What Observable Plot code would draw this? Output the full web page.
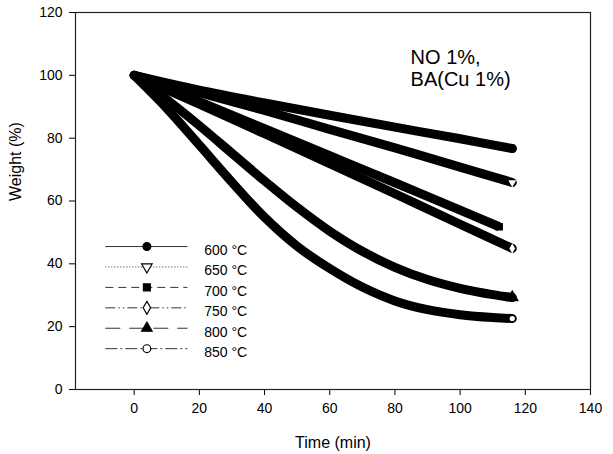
<!DOCTYPE html>
<html>
<head>
<meta charset="utf-8">
<script src="https://cdn.jsdelivr.net/npm/d3@7"></script>
<script src="https://cdn.jsdelivr.net/npm/@observablehq/plot@0.6"></script>
<style>
  body { margin: 0; background: #fff; }
  #chart svg { display: block; }
</style>
</head>
<body>
<div id="chart"></div>
<script>
// ---- data ----
const seriesNames = ["600 °C", "650 °C", "700 °C", "750 °C", "800 °C", "850 °C"];

const time600 = [0, 20, 40, 60, 80, 100, 116];
const weight600 = [100, 95.3, 91.2, 87.3, 83.5, 79.8, 76.7];

const time650 = [0, 20, 40, 60, 80, 100, 116];
const weight650 = [100, 94.5, 88.8, 82.8, 76.9, 70.8, 65.9];

const time700 = [0, 20, 40, 60, 80, 100, 112];
const weight700 = [100, 91.6, 83, 74.4, 65.8, 57.1, 51.8];

const time750 = [0, 20, 40, 60, 80, 100, 116];
const weight750 = [100, 90.8, 81.4, 71.9, 62.3, 52.6, 44.9];

const time800 = [0, 10, 20, 30, 40, 50, 60, 70, 80, 90, 100, 110, 116];
const weight800 = [100, 92.3, 84, 75.2, 66.4, 58, 50.4, 44, 38.9, 35, 32.2, 30.2, 29.3];

const time850 = [0, 10, 20, 30, 40, 50, 60, 70, 80, 90, 100, 110, 116];
const weight850 = [100, 89.5, 77.8, 66, 54.8, 45.6, 38.5, 32.6, 28.2, 25.4, 23.8, 22.9, 22.6];

const xTicks = [0, 20, 40, 60, 80, 100, 120, 140];
const yTicks = [0, 20, 40, 60, 80, 100, 120];
const annotationText = "NO 1%,\nBA(Cu 1%)";
const xLabel = "Time (min)";
const yLabel = "Weight (%)";

// ---- build tables ----
const times = [time600, time650, time700, time750, time800, time850];
const weights = [weight600, weight650, weight700, weight750, weight800, weight850];
const tables = seriesNames.map((name, i) =>
  times[i].map((t, j) => ({series: name, time: t, weight: weights[i][j]}))
);

// ---- styles ----
const triangleDown = {
  draw(context, size) {
    const y = -Math.sqrt(size / (Math.sqrt(3) * 3));
    context.moveTo(0, -y * 2);
    context.lineTo(-Math.sqrt(3) * y, y);
    context.lineTo(Math.sqrt(3) * y, y);
    context.closePath();
  }
};
const styles = [
  {symbol: "circle", fill: "black", dash: null, cap: "round", endR: 4.5, endFill: "black"},
  {symbol: triangleDown, fill: "white", dash: "1,2", cap: "round", endR: 3, endFill: "white"},
  {symbol: "square", fill: "black", dash: "8,5", cap: "butt", endR: 4.2, endFill: "black"},
  {symbol: "diamond", fill: "white", dash: "10,3,1.5,3,1.5,3", cap: "round", endR: 3, endFill: "white"},
  {symbol: "triangle", fill: "black", dash: "15,9", cap: "round", endR: 5, endFill: "black"},
  {symbol: "circle", fill: "white", dash: "12,3,2,3", cap: "round", endR: 2.6, endFill: "white"}
];

// legend layout (in data units)
const legendX1 = -8.7, legendX2 = 16.5, legendMarkX = 3.9, legendTextX = 21.5;
const legendTopY = 45.5, legendStep = 6.5;

const marks = [Plot.frame({stroke: "#222", strokeWidth: 1.2})];

tables.forEach((tbl, i) => {
  const s = styles[i];
  marks.push(Plot.line(tbl, {
    x: "time", y: "weight", stroke: "black", strokeWidth: 9,
    strokeLinecap: s.cap, strokeLinejoin: "round", curve: "catmull-rom"
  }));
});
tables.forEach((tbl, i) => {
  const s = styles[i];
  marks.push(Plot.dot([tbl[tbl.length - 1]], {
    x: "time", y: "weight", symbol: s.symbol, r: s.endR, fill: s.endFill, stroke: "none"
  }));
});

// legend
seriesNames.forEach((name, i) => {
  const s = styles[i];
  const row = [{series: name, y: legendTopY - i * legendStep}];
  marks.push(Plot.ruleY(row, {
    y: "y", x1: () => legendX1, x2: () => legendX2,
    stroke: "#333", strokeWidth: 1, strokeDasharray: s.dash
  }));
  marks.push(Plot.dot(row, {
    x: () => legendMarkX, y: "y", symbol: s.symbol, r: 3.9,
    fill: s.fill, stroke: "black", strokeWidth: 1.2
  }));
  marks.push(Plot.text(row, {
    x: () => legendTextX, y: "y", text: "series", textAnchor: "start",
    lineAnchor: "middle", dy: 4, fontSize: 14, fill: "black"
  }));
});

// annotation
marks.push(Plot.text([annotationText], {
  x: () => 84.8, y: () => 108.8, text: d => d, textAnchor: "start",
  lineAnchor: "top", fontSize: 20, lineHeight: 1.12, fill: "black"
}));

// axis titles
marks.push(Plot.text([xLabel], {
  frameAnchor: "bottom", text: d => d, dy: 53, fontSize: 16, lineAnchor: "middle", fill: "black"
}));
marks.push(Plot.text([yLabel], {
  frameAnchor: "left", text: d => d, dx: -60, rotate: -90, fontSize: 16, lineAnchor: "middle", fill: "black"
}));

const chart = Plot.plot({
  width: 613,
  height: 454,
  marginLeft: 75,
  marginRight: 23,
  marginTop: 12,
  marginBottom: 65,
  style: {fontFamily: "'Liberation Sans', Arial, sans-serif", fontSize: "14px", color: "black", background: "white"},
  x: {domain: [-18, 140], ticks: xTicks, tickSize: 6, tickPadding: 8, tickFormat: d => String(d), label: null},
  y: {domain: [0, 120], ticks: yTicks, tickSize: 6, tickPadding: 7, tickFormat: d => String(d), label: null},
  marks
});
document.getElementById("chart").appendChild(chart);
</script>
</body>
</html>
